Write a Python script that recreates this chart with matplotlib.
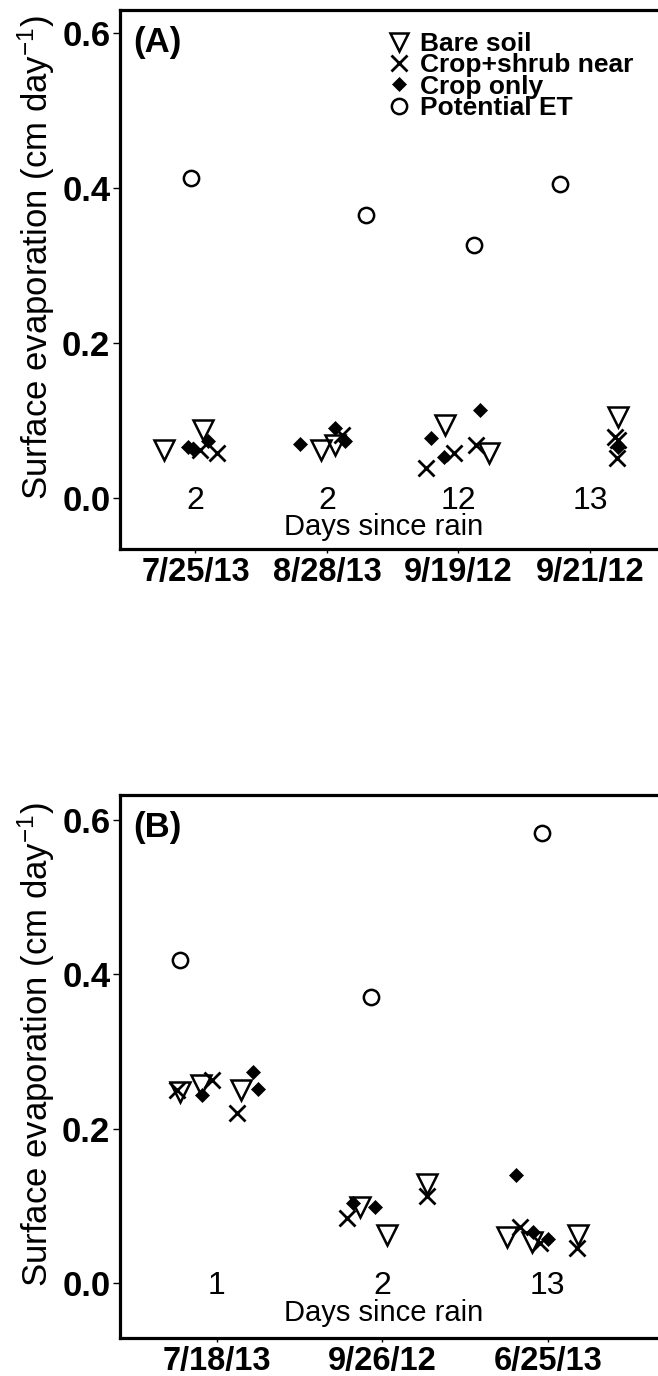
import matplotlib
matplotlib.use("Agg")
import matplotlib.pyplot as plt
import matplotlib.transforms as mtrans
from matplotlib.lines import Line2D

plt.rcParams['font.family'] = ['Liberation Sans', 'DejaVu Sans']
plt.rcParams['mathtext.fontset'] = 'custom'
plt.rcParams['mathtext.rm'] = 'Liberation Sans'
plt.rcParams['mathtext.it'] = 'Liberation Sans'

# ---------------- data ----------------
a_dates = ["7/25/13", "8/28/13", "9/19/12", "9/21/12"]
a_days = ["2", "2", "12", "13"]

a_bare_x = [0.761, 1.058, 1.954, 2.059, 2.90, 3.231, 4.216]
a_bare_y = [0.062, 0.088, 0.062, 0.068, 0.094, 0.058, 0.105]
a_shrub_x = [1.032, 1.164, 2.112, 2.755, 2.968, 3.136, 4.193, 4.216, 4.205]
a_shrub_y = [0.062, 0.058, 0.081, 0.038, 0.058, 0.068, 0.079, 0.075, 0.051]
a_crop_x = [0.94, 0.98, 1.096, 1.796, 2.059, 2.138, 2.793, 2.888, 3.166, 4.216]
a_crop_y = [0.066, 0.063, 0.073, 0.070, 0.090, 0.073, 0.077, 0.053, 0.114, 0.066]
a_pet_x = [0.967, 2.30, 3.12, 3.775]
a_pet_y = [0.413, 0.365, 0.326, 0.405]

b_dates = ["7/18/13", "9/26/12", "6/25/13"]
b_days = ["1", "2", "13"]

b_bare_x = [0.779, 0.903, 1.145, 1.864, 2.027, 2.27, 2.752, 2.903, 3.181]
b_bare_y = [0.248, 0.256, 0.250, 0.098, 0.062, 0.128, 0.060, 0.053, 0.062]
b_shrub_x = [0.758, 0.968, 1.124, 1.786, 2.27, 2.83, 2.95, 3.175]
b_shrub_y = [0.250, 0.263, 0.220, 0.084, 0.113, 0.073, 0.052, 0.045]
b_crop_x = [0.909, 1.218, 1.248, 1.822, 1.955, 2.81, 2.909, 3.00]
b_crop_y = [0.243, 0.274, 0.251, 0.104, 0.099, 0.140, 0.066, 0.057]
b_pet_x = [0.776, 1.934, 2.964]
b_pet_y = [0.418, 0.370, 0.583]

y_ticks = [0.0, 0.2, 0.4, 0.6]
y_ticklabels = ["0.0", "0.2", "0.4", "0.6"]
legend_labels = ["Bare soil", "Crop+shrub near", "Crop only", "Potential ET"]

# ---------------- figure ----------------
W, H = 658, 1376
fig = plt.figure(figsize=(W / 100, H / 100), dpi=100)

def px_axes(left, top, right, bottom):
    return fig.add_axes([left / W, 1 - bottom / H, (right - left) / W, (bottom - top) / H])

axA = px_axes(120, 10, 657, 549)
axB = px_axes(120, 795, 657, 1338)

TRI = dict(marker='v', ms=15, mfc='none', mec='black', mew=1.8, linestyle='none')
CRS = dict(marker='x', ms=12, mec='black', mew=2.0, linestyle='none')
DIA = dict(marker='D', ms=7.5, mfc='black', mec='black', mew=0.5, linestyle='none')
CIR = dict(marker='o', ms=11, mfc='none', mec='black', mew=1.8, linestyle='none')

def draw(ax, bx, by, sx, sy, cx, cy, px, py):
    ax.plot(bx, by, **TRI)
    ax.plot(sx, sy, **CRS)
    ax.plot(cx, cy, **DIA)
    ax.plot(px, py, **CIR)

draw(axA, a_bare_x, a_bare_y, a_shrub_x, a_shrub_y, a_crop_x, a_crop_y, a_pet_x, a_pet_y)
draw(axB, b_bare_x, b_bare_y, b_shrub_x, b_shrub_y, b_crop_x, b_crop_y, b_pet_x, b_pet_y)

def style(ax, dates, days, xlim, ylim, tag):
    ax.set_xlim(*xlim)
    ax.set_ylim(*ylim)
    for s in ['left', 'top', 'bottom']:
        ax.spines[s].set_linewidth(2.3)
    ax.spines['right'].set_visible(False)
    pos = list(range(1, len(dates) + 1))
    ax.set_xticks(pos)
    ax.set_xticklabels(dates, fontsize=23.5, fontweight='bold')
    ax.set_yticks(y_ticks)
    ax.set_yticklabels(y_ticklabels, fontsize=25, fontweight='bold')
    ax.tick_params(axis='y', length=5, width=1, pad=2)
    ax.tick_params(axis='x', length=3, width=1, pad=3)
    ax.set_ylabel("Surface evaporation (cm day$^{-1}$)", fontsize=25)
    ax.yaxis.set_label_coords(-0.117, 0.54)
    for d, x in zip(days, pos):
        ax.text(x, -0.004, d, ha='center', va='center', fontsize=23)
    tr = mtrans.blended_transform_factory(ax.transAxes, ax.transData)
    ax.text(0.49, -0.038, "Days since rain", transform=tr, ha='center', va='center', fontsize=21)
    ax.text(0.025, 0.97, tag, transform=ax.transAxes, ha='left', va='top',
            fontsize=25, fontweight='bold')

style(axA, a_dates, a_days, (0.426, 4.51), (-0.066, 0.630), "(A)")
style(axB, b_dates, b_days, (0.414, 3.66), (-0.071, 0.632), "(B)")

handles = [Line2D([], [], **TRI), Line2D([], [], **CRS),
           Line2D([], [], **DIA), Line2D([], [], **CIR)]
handles[0].set_markersize(13)
axA.legend(handles, legend_labels, loc='upper left',
           bbox_to_anchor=(386 / W, 1 - 32 / H), bbox_transform=fig.transFigure,
           frameon=False, prop=dict(size=19, weight='bold'), borderpad=0,
           handlelength=1.0, handletextpad=0.3, labelspacing=-0.1, borderaxespad=0)

fig.savefig("out.png", dpi=100)
